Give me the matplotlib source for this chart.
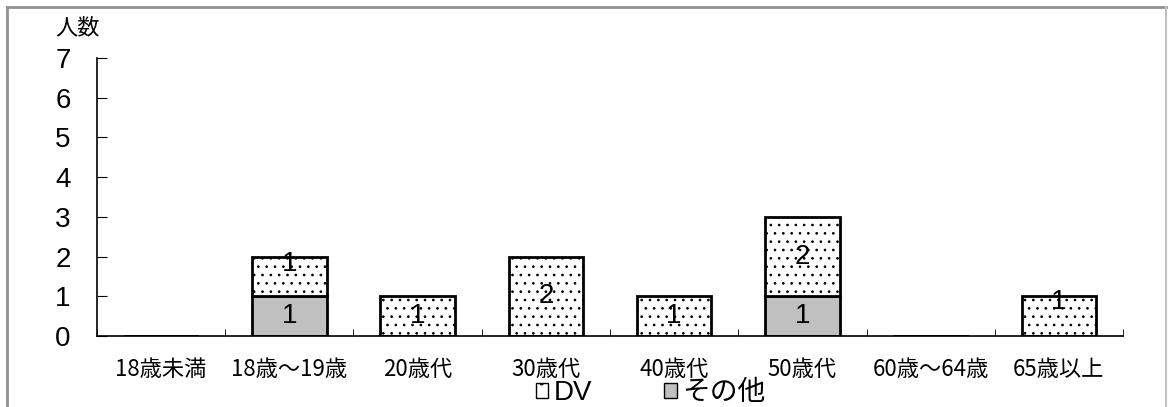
import numpy as np
import matplotlib
matplotlib.use("Agg")
import matplotlib.pyplot as plt
from matplotlib.lines import Line2D
from matplotlib.patches import Patch

plt.rcParams['font.family'] = ['Liberation Sans', 'Noto Sans CJK JP', 'DejaVu Sans']
plt.rcParams['hatch.linewidth'] = 0.7

categories = ['18歳未満', '18歳～19歳', '20歳代', '30歳代', '40歳代', '50歳代', '60歳～64歳', '65歳以上']
dv = [0, 1, 1, 2, 1, 2, 0, 1]
other = [0, 1, 0, 0, 0, 1, 0, 0]
y_ticks = [0, 1, 2, 3, 4, 5, 6, 7]

# label nudge (in data units) for a few of the DV labels, like the original
dv_nudge = [0, 0.32, 0, 0, 0, 0, 0, 0.35]

fig = plt.figure(figsize=(11.68, 4.07), dpi=100)
ax = fig.add_axes([0.083, 0.1744, 0.8785, 0.6831])

x = np.arange(len(categories))
width = 0.58
ax.bar(x, other, width, color='#c0c0c0', edgecolor='black', linewidth=2, zorder=2)
ax.bar(x, dv, width, bottom=other, color='white', edgecolor='black', linewidth=2,
       hatch='..', zorder=2)

for i in range(len(categories)):
    if other[i] > 0:
        ax.text(x[i], other[i] / 2, str(other[i]), ha='center', va='center', fontsize=20, zorder=3)
    if dv[i] > 0:
        ax.text(x[i], other[i] + dv[i] / 2 + dv_nudge[i], str(dv[i]), ha='center', va='center',
                fontsize=20, zorder=3)

ax.set_xlim(-0.5, len(categories) - 0.5)
ax.set_ylim(0, 7)
ax.set_yticks(y_ticks)
ax.set_yticklabels([str(t) for t in y_ticks], fontsize=20)
ax.set_xticks(x)
ax.set_xticklabels(categories, fontsize=16, family=['Noto Sans CJK JP'])
ax.set_xticks(np.arange(len(categories) + 1) - 0.5, minor=True)
ax.tick_params(axis='x', which='major', length=0, pad=16)
ax.tick_params(axis='x', which='minor', direction='in', length=5)
ax.tick_params(axis='y', direction='in', length=7, pad=19)

ax.spines['top'].set_visible(False)
ax.spines['right'].set_visible(False)
ax.spines['left'].set_linewidth(1.2)
ax.spines['bottom'].set_linewidth(1.2)

fig.text(0.047, 0.931, '人数', fontsize=16, family=['Noto Sans CJK JP'], va='center')

handles = [Patch(facecolor='white', edgecolor='black', hatch='.', label='DV'),
           Patch(facecolor='#c0c0c0', edgecolor='black', label='その他')]
leg = fig.legend(handles=handles, loc='center', bbox_to_anchor=(0.557, 0.034), ncol=2,
                 frameon=False, fontsize=20, handlelength=0.45, handleheight=0.45,
                 handletextpad=0.2, columnspacing=2.6, borderaxespad=0)
for t in leg.get_texts():
    t.set_family(['Liberation Sans', 'Noto Sans CJK JP'])

# grey frame around the chart area (bottom edge cut off in the original)
fig.add_artist(Line2D([7 / 1168, 7 / 1168], [0, 1 - 7 / 407], transform=fig.transFigure,
                      color='#909090', linewidth=2))
fig.add_artist(Line2D([7 / 1168, 1166 / 1168], [1 - 7 / 407, 1 - 7 / 407], transform=fig.transFigure,
                      color='#909090', linewidth=2))
fig.add_artist(Line2D([1166 / 1168, 1166 / 1168], [0, 1 - 7 / 407], transform=fig.transFigure,
                      color='#c0c0c0', linewidth=1.5))

fig.savefig('out.png', dpi=100)
